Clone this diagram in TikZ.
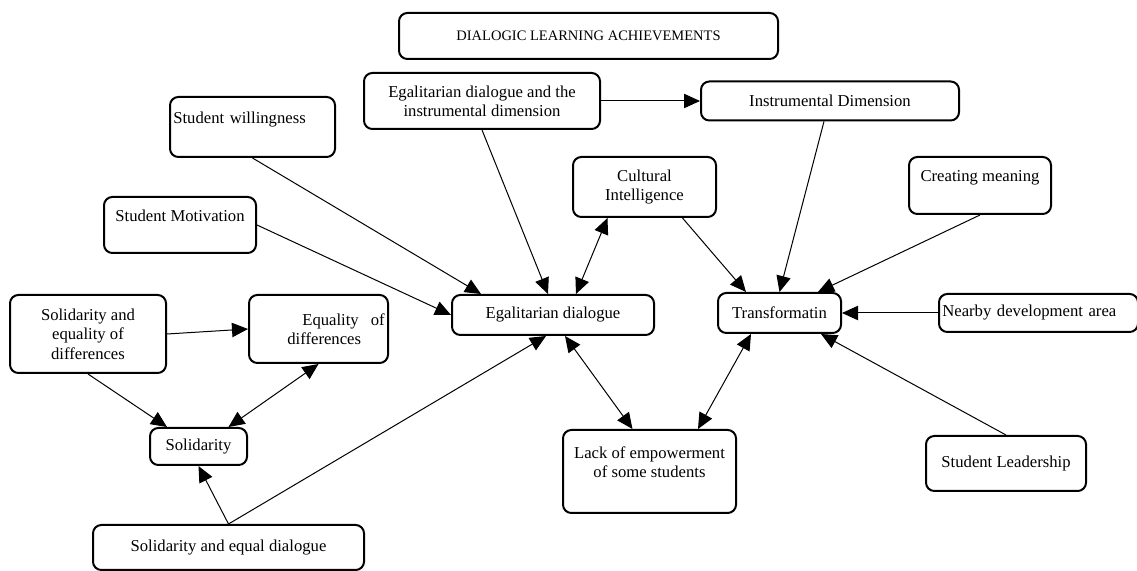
\documentclass[tikz,border=0pt]{standalone}
\usepackage{fontspec}
\setmainfont{Liberation Serif}
\usetikzlibrary{arrows.meta,positioning,calc}

\begin{document}
\begin{tikzpicture}[x=0.6pt,y=-0.6pt,
    n/.style={draw,line width=1.2pt,rounded corners=5pt,align=center,inner sep=2pt,font=\fontsize{10}{11.6}\selectfont},
    a/.style={-{Triangle[length=9.6pt,width=8.6pt]},line width=0.6pt},
    ab/.style={{Triangle[length=9.6pt,width=8.6pt]}-{Triangle[length=9.6pt,width=8.6pt]},line width=0.6pt}]
    \useasboundingbox (0,0) rectangle (1137,571);
    \node[n,minimum width=227.4pt,minimum height=27.6pt,font=\fontsize{8.7}{10}\selectfont] (title) at (588.5,36) {DIALOGIC LEARNING ACHIEVEMENTS};
    \node[n,minimum width=141.6pt,minimum height=33.6pt] (eginst) at (482,101) {Egalitarian dialogue and the\\instrumental dimension};
    \node[n,minimum width=154.8pt,minimum height=23.4pt,right=59.4pt of eginst] (instr) {Instrumental Dimension};
    \node[n,minimum width=85.8pt,minimum height=36pt] (cultural) at (644.5,187) {Cultural\\Intelligence};
    \node[n,minimum width=85.2pt,minimum height=34.2pt] (creating) at (980,185.5) {Creating meaning\\\mbox{}};
    \node[n,minimum width=73.8pt,minimum height=24pt] (transf) at (779.5,313) {Transformatin};
    \node[n,minimum height=22.8pt,align=left,text width=115.4pt,right=57.6pt of transf] (nearby) {Nearby development area};
    \node[n,minimum width=96pt,minimum height=33pt] (leader) at (1006,463.5) {Student Leadership};
    \node[n,minimum width=103.8pt,minimum height=49.8pt] (lack) at (649.5,471.5) {Lack of empowerment\\of some students\\\mbox{}};
    \node[n,minimum width=121.2pt,minimum height=24pt] (egal) at (553,315) {Egalitarian dialogue};
    \node[n,minimum height=36pt,align=left,text width=95pt] (willing) at (252.5,127) {Student willingness\\\mbox{}};
    \node[n,minimum width=91.2pt,minimum height=33.6pt] (motiv) at (180,225) {Student Motivation\\\mbox{}};
    \node[n,minimum width=93.6pt,minimum height=46.8pt] (soleq) at (88,334) {Solidarity and\\equality of\\differences};
    \node[n,minimum height=40.8pt,align=left,text width=79.4pt] (eqdiff) at (318.5,329) {\hspace*{30pt}Equality\hfill of\\\hspace*{21pt}differences};
    \node[n,minimum width=58.2pt,minimum height=22.2pt] (solid) at (198.5,446.5) {Solidarity};
    \node[n,minimum width=162.6pt,minimum height=27pt] (soldial) at (228.5,547.5) {Solidarity and equal dialogue};
    \draw[a] (eginst.east) -- (instr.west);
    \draw[a] (eginst.south) -- ($(egal.north)+(-5,0)$);
    \draw[ab] ($(cultural.south)+(-37,0)$) -- ($(egal.north)+(23,0)$);
    \draw[a] (willing.south) -- ($(egal.north west)+(30,0)$);
    \draw[a] (motiv.east) -- (egal.west);
    \draw[a] (soldial.north) -- ($(egal.south)+(-7,0)$);
    \draw[a] (soldial.north) -- (solid.south);
    \draw[a] (soleq.east) -- (eqdiff.west);
    \draw[a] (soleq.south) -- ($(solid.north west)+(18,0)$);
    \draw[ab] (eqdiff.south) -- ($(solid.north)+(30,0)$);
    \draw[ab] ($(egal.south)+(12,0)$) -- ($(lack.north)+(-17,0)$);
    \draw[ab] ($(transf.south west)+(34,0)$) -- ($(lack.north east)+(-39,0)$);
    \draw[a] ($(cultural.south)+(38,0)$) -- ($(transf.north west)+(29,0)$);
    \draw[a] ($(instr.south)+(-6,0)$) -- (transf.north);
    \draw[a] (creating.south) -- ($(transf.north east)+(-24,0)$);
    \draw[a] (nearby.west) -- (transf.east);
    \draw[a] (leader.north) -- ($(transf.south east)+(-21,0)$);
\end{tikzpicture}
\end{document}
